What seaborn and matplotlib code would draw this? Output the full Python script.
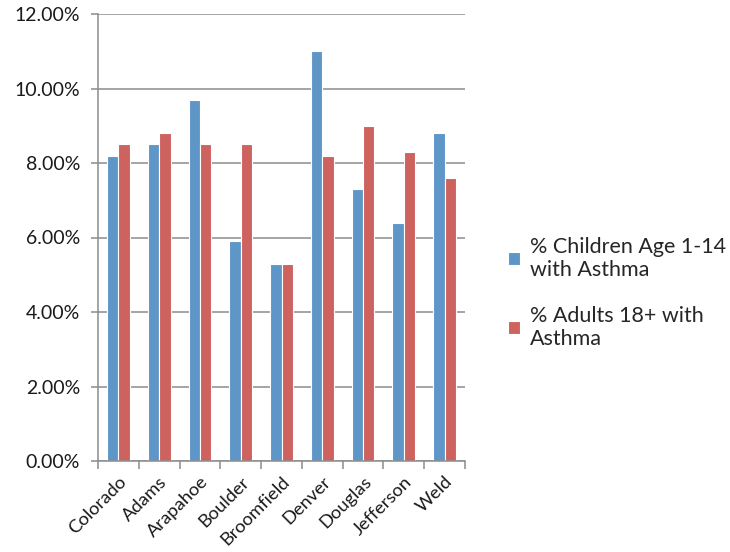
import matplotlib
matplotlib.use("Agg")
import matplotlib.pyplot as plt
import seaborn as sns
import pandas as pd
import numpy as np
from matplotlib.ticker import FuncFormatter, FixedLocator

counties = ["Colorado", "Adams", "Arapahoe", "Boulder", "Broomfield",
            "Denver", "Douglas", "Jefferson", "Weld"]
children = [8.2, 8.5, 9.7, 5.9, 5.3, 11.0, 7.3, 6.4, 8.8]
adults = [8.5, 8.8, 8.5, 8.5, 5.3, 8.2, 9.0, 8.3, 7.6]
series_names = ["% Children Age 1-14\nwith Asthma", "% Adults 18+ with\nAsthma"]
colors = ["#5f96c8", "#cd625e"]
yticks = [0, 2, 4, 6, 8, 10, 12]

df = pd.DataFrame({
    "County": counties * 2,
    "Rate": children + adults,
    "Series": [series_names[0]] * len(counties) + [series_names[1]] * len(counties),
})

sns.set_style("white")
plt.rcParams["font.family"] = ["Lato", "DejaVu Sans"]

fig = plt.figure(figsize=(7.30, 5.52), dpi=100)
ax = fig.add_axes([98 / 730, 1 - 461 / 552, (465 - 98) / 730, (461 - 14) / 552])

sns.barplot(data=df, x="County", y="Rate", hue="Series", palette=colors,
            width=0.56, edgecolor="white", linewidth=0.8, ax=ax, saturation=1)

ax.set_ylim(0, 12)
ax.set_xlim(-0.5, len(counties) - 0.5)
ax.set_yticks(yticks)
ax.yaxis.set_major_formatter(FuncFormatter(lambda v, p: f"{v:.2f}%"))
ax.yaxis.grid(True, color="#8c8c8c", linewidth=1.1)
ax.set_axisbelow(True)
ax.set_xlabel("")
ax.set_ylabel("")

for s in ["top", "right"]:
    ax.spines[s].set_visible(False)
for s in ["left", "bottom"]:
    ax.spines[s].set_color("#8c8c8c")
    ax.spines[s].set_linewidth(1.1)

ax.tick_params(axis="y", length=5, width=1.1, color="#8c8c8c", labelsize=14,
               pad=8, labelcolor="#1a1a1a", left=True)
ax.tick_params(axis="x", which="major", length=0, labelsize=13.2, pad=9,
               labelcolor="#1a1a1a")
ax.xaxis.set_minor_locator(FixedLocator(np.arange(-0.5, len(counties), 1.0)))
ax.tick_params(axis="x", which="minor", length=6, width=1.1, color="#8c8c8c",
               bottom=True)
for lbl in ax.get_xticklabels():
    lbl.set_rotation(45)
    lbl.set_ha("right")
    lbl.set_rotation_mode("anchor")

leg = ax.legend(loc="center left", bbox_to_anchor=(1.065, 0.376), frameon=False,
                fontsize=15.5, handlelength=0.55, handleheight=0.55,
                handletextpad=0.45, labelspacing=1.2)

fig.savefig("out.png", dpi=100)
